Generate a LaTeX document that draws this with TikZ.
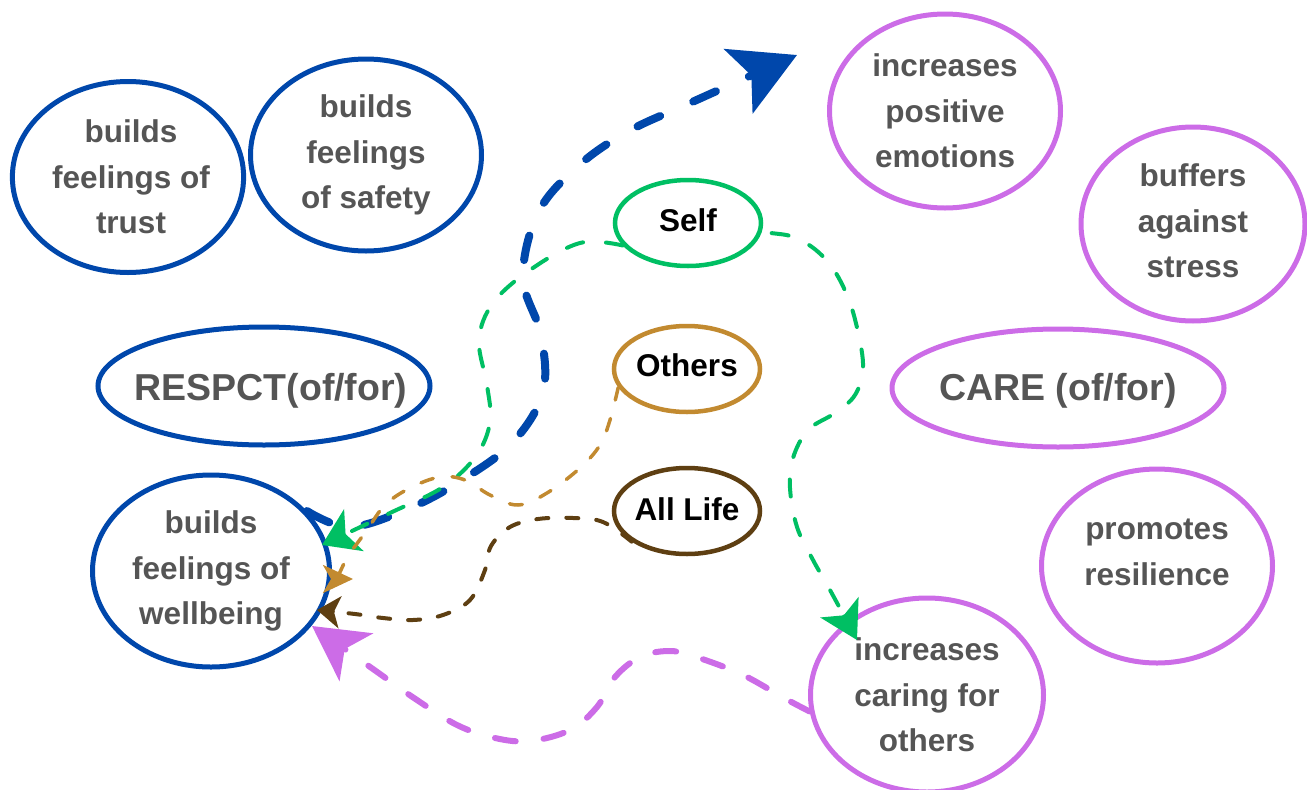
\documentclass[tikz,border=0pt]{standalone}
\usepackage{fontspec}
\setmainfont{Liberation Sans}
\usetikzlibrary{shapes.geometric,arrows.meta}
\definecolor{cblue}{HTML}{0047AB}
\definecolor{cpurple}{HTML}{CC6CE7}
\definecolor{cgreen}{HTML}{00BF63}
\definecolor{ctan}{HTML}{C28A30}
\definecolor{cbrown}{HTML}{5E3F12}
\definecolor{txtgray}{HTML}{555555}
\newcommand{\lowerby}[2]{\raisebox{-#1}[\height][\depth]{#2}}
\begin{document}
\begin{tikzpicture}[x=1pt,y=-1pt,
  ell/.style={ellipse, draw, line width=5pt, inner sep=0pt, align=center,
    font=\fontsize{31.5}{45.5}\selectfont\bfseries, text=txtgray},
  bigell/.style={ell, inner xsep=-50pt, font=\fontsize{37.5}{44}\selectfont\bfseries},
  smallell/.style={ell, text=black, inner xsep=-6pt, line width=4.5pt},
  bluearrow/.style={draw=cblue, line width=8pt, line cap=round, dash pattern=on 25pt off 36pt,
    -{Stealth[length=64pt, width=70pt, inset=14pt, fill=cblue]}},
  greenarrow/.style={draw=cgreen, line width=4pt, line cap=round, dash pattern=on 17pt off 23pt},
  tanarrow/.style={draw=ctan, line width=3.5pt, line cap=round, dash pattern=on 13pt off 19pt,
    -{Stealth[length=30pt, width=28pt, inset=8pt, fill=ctan]}},
  brownarrow/.style={draw=cbrown, line width=4pt, line cap=round, dash pattern=on 12pt off 18pt,
    -{Stealth[length=23pt, width=32pt, inset=6pt, fill=cbrown]}},
  purplearrow/.style={draw=cpurple, line width=6pt, line cap=round, dash pattern=on 21pt off 28pt,
    -{Stealth[length=54pt, width=58pt, inset=14pt, fill=cpurple]}}
]
\useasboundingbox (0,0) rectangle (1307,790);

% left (RESPECT) side
\node[ell, draw=cblue, minimum width=231pt, minimum height=191pt] (trust) at (128,177) {\hspace*{6pt}builds\\\hspace*{6pt}feelings of\\\hspace*{6pt}trust};
\node[ell, draw=cblue, minimum width=231pt, minimum height=192pt] (safety) at (366,155) {builds\\feelings\\of safety};
\node[bigell, draw=cblue, minimum width=332pt, minimum height=118pt] (respct) at (264,386) {\lowerby{5pt}{\hspace*{14pt}RESPCT(of/for)}};
\node[ell, draw=cblue, minimum width=237pt, minimum height=192pt] (wb) at (211,571) {builds\\feelings of\\wellbeing};

% middle
\node[smallell, draw=cgreen, minimum width=146pt, minimum height=86pt] (self) at (688,223) {\lowerby{-3pt}{Self}};
\node[smallell, draw=ctan, minimum width=146pt, minimum height=86pt] (others) at (687,369) {\lowerby{-4pt}{Others}};
\node[smallell, draw=cbrown, minimum width=146pt, minimum height=86pt] (alllife) at (687,511) {\lowerby{-2pt}{All Life}};

% right (CARE) side
\node[ell, draw=cpurple, minimum width=231pt, minimum height=194pt] (pos) at (945,111) {increases\\positive\\emotions};
\node[ell, draw=cpurple, minimum width=224pt, minimum height=194pt] (stress) at (1193,224) {buffers\\against\\stress\\[-39.5pt]\mbox{}};
\node[bigell, draw=cpurple, minimum width=332pt, minimum height=118pt] (care) at (1058,388) {\lowerby{3pt}{CARE (of/for)}};
\node[ell, draw=cpurple, minimum width=231pt, minimum height=194pt] (resil) at (1157,566) {promotes\\resilience\\[-17.5pt]\mbox{}};
\node[ell, draw=cpurple, minimum width=233pt, minimum height=194pt] (caring) at (927,695) {increases\\caring for\\others};

% free arrow ends
\coordinate (tipB) at (797,55);
\coordinate (tipG1) at (322,545);
\coordinate (tipG2) at (857,640);
\coordinate (tipT) at (353,579);
\coordinate (tipBr) at (317,610);
\coordinate (tipP) at (312,626);

% connectors
\draw[bluearrow] plot[smooth, tension=0.6] coordinates {(wb.32) (350,527) (410,508) (462,480) (513,442) (543,392) (541,335) (523,278) (538,213) (577,167) (627,132) (690,103) (tipB)};

\draw[greenarrow, -{Stealth[length=35pt, width=46pt, inset=9pt, fill=cgreen]}]
  plot[smooth, tension=0.6] coordinates {(self.199) (580,243) (530,270) (493,303) (479,340) (487,385) (490,422) (476,456) (443,487) (390,513) (tipG1)};

\draw[greenarrow, -{Stealth[length=37pt, width=43pt, inset=9pt, fill=cgreen]}, shorten <=10pt]
  plot[smooth, tension=0.6] coordinates {(self.-7) (800,240) (828,262) (847,295) (858,332) (863,368) (855,395) (835,413) (808,430) (793,458) (790,488) (797,527) (813,560) (830,590) (tipG2)};

\draw[tanarrow] plot[smooth, tension=0.6] coordinates {(others.195) (610,420) (600,445) (580,468) (547,493) (518,505) (490,495) (465,480) (440,477) (410,488) (385,505) (367,530) (350,553)}
  .. controls (338,572) and (340,579) .. (tipT);

\draw[brownarrow] plot[smooth, tension=0.6] coordinates {(alllife.209) (603,522) (573,518) (538,519) (510,527) (491,546) (485,570) (470,600) (443,615) (413,620) (383,618) (355,614) (tipBr)};

\draw[purplearrow] plot[smooth, tension=0.6] coordinates {(caring.188) (784,698) (741,674) (693,656) (668,651) (640,657) (615,677) (597,707) (570,730) (530,741) (495,738) (457,725) (414,698) (373,669) (tipP)};
\end{tikzpicture}
\end{document}
